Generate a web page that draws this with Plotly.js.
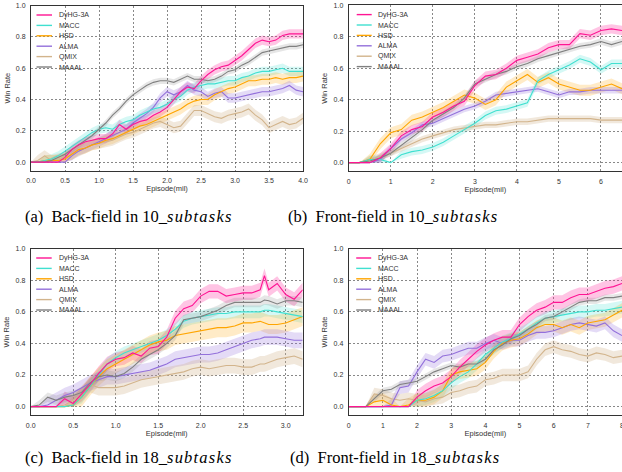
<!DOCTYPE html>
<html><head><meta charset="utf-8">
<script src="https://cdn.plot.ly/plotly-3.0.1.min.js"></script>
<style>html,body{margin:0;padding:0;background:#fff}#chart{width:622px;height:472px}</style>
</head><body><div id="chart"></div><script>
const names = ['DyHG-3A','MACC','HSD','ALMA','QMIX','MAAAL'];
const colors = ['#ff1493','#40e0d0','#ffa500','#9370db','#d2b48c','#808080'];
const bandColors = ['rgba(255,20,147,0.25)','rgba(64,224,208,0.22)','rgba(255,165,0,0.22)','rgba(147,112,219,0.25)','rgba(210,180,140,0.3)','rgba(128,128,128,0.2)'];

// (a) Back-field in 10_subtasks
const xA = [0,0.1,0.2,0.3,0.4,0.5,0.6,0.7,0.8,0.9,1.0,1.1,1.2,1.3,1.4,1.5,1.6,1.7,1.8,1.9,2.0,2.1,2.2,2.3,2.4,2.5,2.6,2.7,2.8,2.9,3.0,3.1,3.2,3.3,3.4,3.5,3.6,3.7,3.8,3.9,4.0];
const dyhgA = [0,0,0,0,0,0.03,0.08,0.11,0.13,0.14,0.15,0.15,0.18,0.24,0.21,0.24,0.26,0.27,0.30,0.32,0.35,0.40,0.45,0.48,0.47,0.52,0.56,0.59,0.61,0.62,0.65,0.68,0.72,0.76,0.78,0.77,0.78,0.81,0.82,0.82,0.82];
const maccA = [0,0,0.01,0.02,0.04,0.07,0.10,0.13,0.16,0.19,0.21,0.22,0.21,0.24,0.26,0.27,0.30,0.32,0.34,0.35,0.37,0.40,0.42,0.46,0.48,0.49,0.50,0.50,0.51,0.52,0.52,0.54,0.55,0.57,0.58,0.58,0.59,0.60,0.58,0.58,0.58];
const hsdA = [0,0,0.01,0.01,0.01,0.02,0.05,0.08,0.09,0.11,0.12,0.14,0.15,0.17,0.19,0.21,0.23,0.24,0.26,0.28,0.30,0.32,0.34,0.37,0.39,0.40,0.40,0.43,0.45,0.47,0.48,0.50,0.52,0.52,0.53,0.53,0.54,0.53,0.54,0.54,0.55];
const almaA = [0,0,0,0,0,0,0.04,0.07,0.09,0.11,0.13,0.15,0.17,0.19,0.21,0.25,0.28,0.31,0.35,0.41,0.45,0.43,0.45,0.49,0.46,0.45,0.42,0.44,0.45,0.41,0.41,0.42,0.43,0.44,0.45,0.45,0.46,0.47,0.49,0.46,0.45];
const qmixA = [0,0.01,0.04,0.01,0.02,0.03,0.05,0.07,0.09,0.11,0.12,0.13,0.14,0.16,0.18,0.19,0.21,0.23,0.25,0.26,0.24,0.22,0.23,0.28,0.33,0.33,0.31,0.29,0.28,0.30,0.31,0.32,0.34,0.30,0.27,0.22,0.24,0.26,0.24,0.25,0.28];
const maaalA = [0,0,0,0.01,0.03,0.05,0.08,0.11,0.14,0.17,0.21,0.25,0.30,0.34,0.39,0.43,0.46,0.49,0.51,0.52,0.52,0.51,0.53,0.55,0.53,0.53,0.52,0.53,0.55,0.58,0.59,0.62,0.64,0.67,0.70,0.71,0.72,0.73,0.74,0.74,0.75];
const spreadA = [0.03,0.03,0.035,0.03,0.035,0.02];

// (b) Front-field in 10_subtasks
const xB = [0,0.25,0.5,0.75,1,1.25,1.5,1.75,2,2.25,2.5,2.75,3,3.25,3.5,3.75,4,4.25,4.5,4.75,5,5.25,5.5,5.75,6,6.25,6.5];
const dyhgB = [0,0,0,0.03,0.09,0.17,0.21,0.23,0.29,0.32,0.36,0.39,0.49,0.55,0.56,0.60,0.65,0.67,0.69,0.73,0.75,0.75,0.82,0.81,0.84,0.85,0.84];
const maccB = [0,0,0.02,0.02,0.00,0.05,0.07,0.08,0.10,0.13,0.17,0.21,0.25,0.30,0.33,0.34,0.36,0.38,0.52,0.56,0.59,0.62,0.66,0.64,0.59,0.63,0.63];
const hsdB = [0,0,0.02,0.12,0.19,0.21,0.27,0.29,0.32,0.35,0.39,0.43,0.41,0.37,0.40,0.48,0.52,0.56,0.51,0.54,0.50,0.48,0.46,0.46,0.48,0.50,0.47];
const almaB = [0,0,0,0.02,0.09,0.15,0.19,0.24,0.25,0.28,0.31,0.34,0.36,0.39,0.43,0.44,0.45,0.46,0.47,0.45,0.43,0.45,0.45,0.46,0.46,0.46,0.46];
const qmixB = [0,0,0.02,0.04,0.06,0.09,0.12,0.15,0.17,0.19,0.21,0.22,0.23,0.24,0.24,0.25,0.26,0.26,0.27,0.28,0.28,0.28,0.28,0.28,0.27,0.27,0.27];
const maaalB = [0,0,0.01,0.03,0.06,0.11,0.155,0.21,0.27,0.31,0.35,0.41,0.50,0.53,0.56,0.58,0.61,0.63,0.66,0.68,0.70,0.72,0.74,0.75,0.77,0.75,0.77];
const spreadB = [0.03,0.025,0.035,0.02,0.02,0.02];

// (c) Back-field in 18_subtasks
const xC = [0,0.1,0.2,0.3,0.4,0.5,0.6,0.7,0.8,0.9,1.0,1.1,1.2,1.3,1.4,1.5,1.6,1.7,1.8,1.9,2.0,2.1,2.2,2.3,2.4,2.5,2.6,2.7,2.75,2.8,2.9,3.0,3.1,3.2];
const dyhgC = [0,0,0,0,0.05,0.02,0.08,0.14,0.21,0.27,0.30,0.31,0.34,0.32,0.37,0.38,0.44,0.56,0.62,0.64,0.70,0.73,0.73,0.70,0.71,0.72,0.72,0.74,0.83,0.74,0.78,0.71,0.68,0.74];
const maccC = [0,0,0,0,0,0.01,0.06,0.13,0.20,0.27,0.31,0.34,0.36,0.38,0.40,0.42,0.45,0.49,0.54,0.56,0.57,0.58,0.59,0.59,0.60,0.60,0.60,0.60,0.61,0.61,0.60,0.59,0.58,0.57];
const hsdC = [0,0,0,0,0,0.01,0.06,0.13,0.19,0.24,0.27,0.30,0.33,0.36,0.39,0.41,0.42,0.45,0.46,0.47,0.48,0.49,0.50,0.50,0.51,0.53,0.53,0.54,0.53,0.52,0.52,0.53,0.55,0.57];
const almaC = [0,0,0.01,0.04,0.07,0.09,0.12,0.15,0.17,0.19,0.19,0.20,0.21,0.22,0.23,0.25,0.27,0.30,0.31,0.32,0.33,0.33,0.34,0.36,0.38,0.40,0.42,0.43,0.44,0.44,0.44,0.43,0.42,0.42];
const qmixC = [0,0,0,0,0.01,0.04,0.08,0.14,0.12,0.12,0.12,0.13,0.15,0.17,0.18,0.19,0.20,0.21,0.22,0.24,0.25,0.24,0.25,0.26,0.26,0.25,0.25,0.27,0.27,0.28,0.30,0.31,0.32,0.30];
const maaalC = [0,0.01,0.06,0.04,0.06,0.07,0.09,0.15,0.19,0.20,0.19,0.21,0.25,0.30,0.33,0.36,0.40,0.45,0.55,0.56,0.57,0.59,0.61,0.64,0.66,0.66,0.66,0.66,0.675,0.67,0.65,0.67,0.67,0.66];
const spreadC = [0.045,0.04,0.06,0.05,0.05,0.03];

// (d) Front-field in 18_subtasks
const xD = [0,0.25,0.5,0.75,1,1.25,1.5,1.75,2,2.25,2.5,2.75,3,3.25,3.5,3.75,4,4.25,4.5,4.75,5,5.25,5.5,5.75,6,6.25,6.5,6.75,7,7.25,7.5,7.75,8];
const dyhgD = [0,0,0,0,0,0,0,0,0.06,0.10,0.13,0.15,0.19,0.25,0.30,0.35,0.39,0.42,0.44,0.44,0.52,0.57,0.61,0.63,0.66,0.66,0.69,0.71,0.71,0.73,0.75,0.76,0.78];
const maccD = [0,0,0,0,0,0,0,0,0.04,0.05,0.07,0.10,0.15,0.19,0.22,0.27,0.33,0.37,0.41,0.43,0.46,0.49,0.53,0.56,0.57,0.58,0.59,0.60,0.60,0.61,0.61,0.62,0.63];
const hsdD = [0,0,0,0.03,0.04,0.01,0.00,0.01,0.04,0.04,0.06,0.10,0.20,0.22,0.23,0.24,0.28,0.35,0.40,0.42,0.43,0.46,0.50,0.52,0.52,0.50,0.52,0.50,0.53,0.54,0.55,0.58,0.61];
const almaD = [0,0,0,0,0,0.01,0.12,0.13,0.22,0.30,0.28,0.32,0.33,0.35,0.37,0.37,0.40,0.42,0.40,0.42,0.42,0.45,0.47,0.47,0.48,0.50,0.52,0.53,0.52,0.51,0.53,0.48,0.45];
const qmixD = [0,0,0,0.08,0.07,0.05,0.04,0.05,0.04,0.03,0.05,0.06,0.09,0.10,0.12,0.13,0.17,0.18,0.20,0.20,0.20,0.22,0.30,0.36,0.38,0.36,0.35,0.33,0.32,0.34,0.33,0.31,0.32];
const maaalD = [0,0,0,0.05,0.10,0.11,0.14,0.15,0.16,0.19,0.22,0.24,0.26,0.25,0.27,0.27,0.30,0.36,0.39,0.43,0.45,0.49,0.52,0.56,0.57,0.60,0.63,0.66,0.67,0.67,0.69,0.69,0.70];
const spreadD = [0.045,0.04,0.045,0.04,0.04,0.02];

const xTitle = 'Episode(mil)';
const yTitle = 'Win Rate';
const yTicks = [0,0.2,0.4,0.6,0.8,1.0];
const it = s => '<span style="letter-spacing:1.2px">' + s + '</span>';
const captions = ['(a)  Back-field in 10_<i>' + it('subtasks') + '</i>','(b)  Front-field in 10_<i>' + it('subtasks') + '</i>','(c)  Back-field in 18_<i>' + it('subtasks') + '</i>','(d)  Front-field in 18_<i>' + it('subtasks') + '</i>'];

const W = 622, H = 472;
const panels = [
  {x:xA, ys:[dyhgA,maccA,hsdA,almaA,qmixA,maaalA], sp:spreadA, xr:[0,4], dtick:0.5, fmt:'.1f', px:[31,303], py:[5.7,170.7], leg:[5.5,21,26], cap:[128.5,216]},
  {x:xB, ys:[dyhgB,maccB,hsdB,almaB,qmixB,maaalB], sp:spreadB, xr:[0,6.5], dtick:1, fmt:'d', px:[348.7,622], py:[5.3,171.3], leg:[8,23,27.5], cap:[392.5,216]},
  {x:xC, ys:[dyhgC,maccC,hsdC,almaC,qmixC,maaalC], sp:spreadC, xr:[0,3.2], dtick:0.5, fmt:'.1f', px:[30.7,302.7], py:[248.7,415.3], leg:[5.5,21,26.5], cap:[128.5,457]},
  {x:xD, ys:[dyhgD,maccD,hsdD,almaD,qmixD,maaalD], sp:spreadD, xr:[0,8], dtick:1, fmt:'d', px:[348.7,622], py:[248.7,415.3], leg:[7.5,22.5,27], cap:[395,457]}
];

const traces = [];
const layout = {
  width:W, height:H, margin:{l:0,r:0,t:0,b:0}, showlegend:false,
  paper_bgcolor:'#fff', plot_bgcolor:'#fff',
  font:{family:'Liberation Sans, Arial, sans-serif', size:7, color:'#333'},
  shapes:[], annotations:[]
};
panels.forEach((p, k) => {
  const sfx = k === 0 ? '' : String(k+1);
  const xa = 'x'+sfx, ya = 'y'+sfx;
  p.ys.forEach((ys, i) => {
    const up = ys.map(v => v > 0 ? v + p.sp[i] : v);
    const lo = ys.map(v => v > 0 ? Math.max(0, v - p.sp[i]) : v);
    traces.push({x:p.x, y:lo, xaxis:xa, yaxis:ya, mode:'lines', line:{width:0}, hoverinfo:'skip'});
    traces.push({x:p.x, y:up, xaxis:xa, yaxis:ya, mode:'lines', line:{width:0}, fill:'tonexty', fillcolor:bandColors[i], hoverinfo:'skip'});
  });
  [4,3,2,1,5,0].forEach(i => {
    traces.push({x:p.x, y:p.ys[i], name:names[i], xaxis:xa, yaxis:ya, mode:'lines', line:{color:colors[i], width:1.1}});
  });
  const axCommon = {showline:true, mirror:true, linecolor:'#333', linewidth:1, showgrid:true, gridcolor:'#555', griddash:'2px,2px', gridwidth:0.7, zeroline:false, ticks:'outside', ticklen:3, tickcolor:'rgba(0,0,0,0)', tickfont:{size:7, color:'#333'}, fixedrange:true};
  layout['xaxis'+sfx] = Object.assign({}, axCommon, {
    domain:[p.px[0]/W, p.px[1]/W], range:p.xr, tick0:0, dtick:p.dtick, tickformat:p.fmt, anchor:ya, ticklabeloverflow:'allow',
    title:{text:xTitle, font:{size:7.5, color:'#333'}, standoff:2}
  });
  layout['yaxis'+sfx] = Object.assign({}, axCommon, {
    domain:[1-p.py[1]/H, 1-p.py[0]/H], range:[-0.055,1.0], tickvals:yTicks, tickformat:'.1f', anchor:xa,
    title:{text:yTitle, font:{size:7.5, color:'#333'}, standoff:4}
  });
  const ph = p.py[1]-p.py[0], pw = p.px[1]-p.px[0];
  names.forEach((n, i) => {
    const yy = 1 - (9.3 + i*10.4)/ph;
    layout.shapes.push({type:'line', xref:xa+' domain', yref:ya+' domain', x0:p.leg[0]/pw, x1:p.leg[1]/pw, y0:yy, y1:yy, line:{color:colors[i], width:1.4}});
    layout.annotations.push({xref:xa+' domain', yref:ya+' domain', x:p.leg[2]/pw, y:yy, xanchor:'left', yanchor:'middle', text:n, showarrow:false, font:{size:7, color:'#333'}});
  });
  layout.annotations.push({xref:'paper', yref:'paper', x:p.cap[0]/W, y:1-p.cap[1]/H, xanchor:'center', yanchor:'middle', text:captions[k], showarrow:false, font:{family:'Liberation Serif, Times New Roman, serif', size:16.5, color:'#000'}});
});
Plotly.newPlot('chart', traces, layout, {staticPlot:true, displayModeBar:false});
</script></body></html>
